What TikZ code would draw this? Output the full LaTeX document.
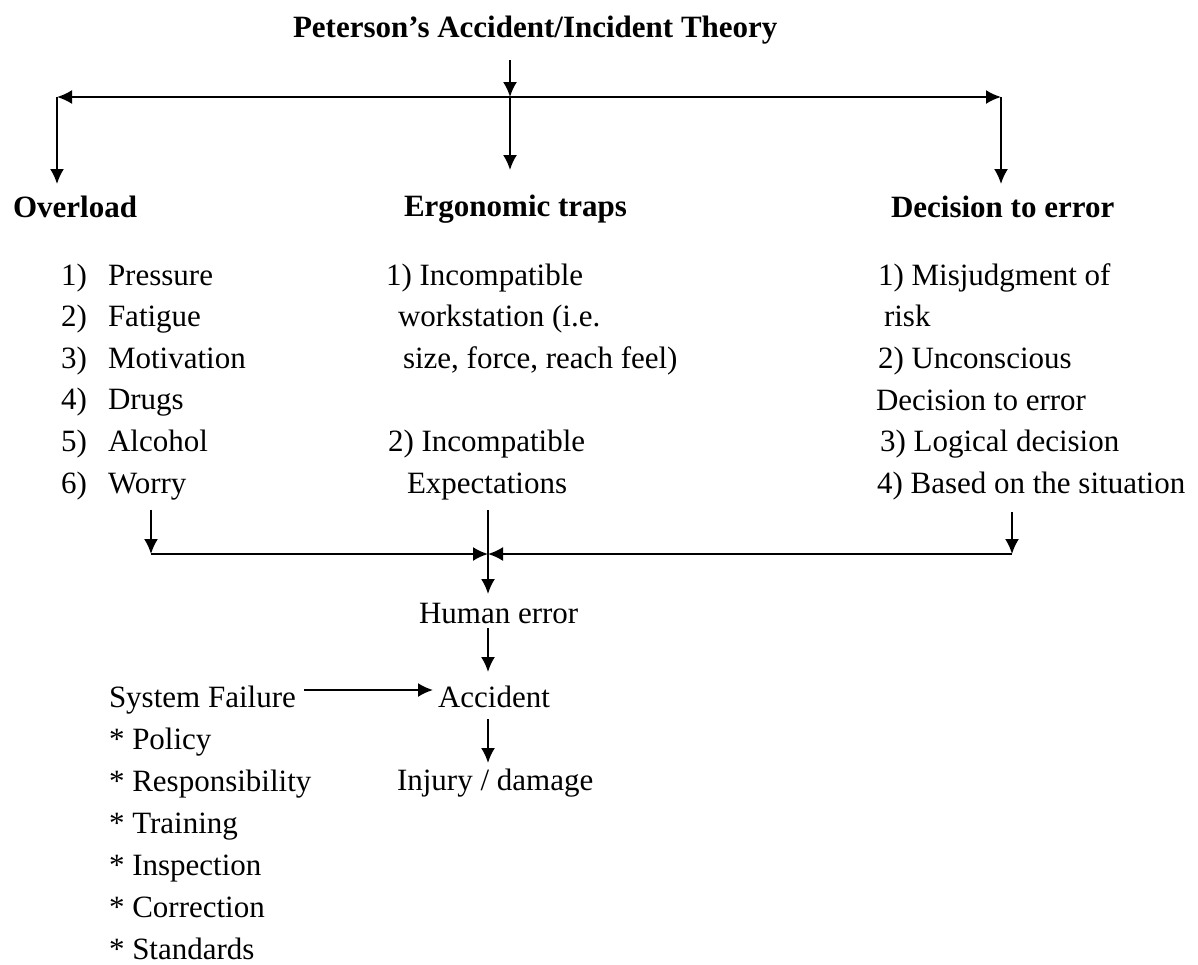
\documentclass[tikz,border=0pt]{standalone}
\usepackage{fontspec}
\setmainfont{Liberation Serif}
\usetikzlibrary{arrows.meta,positioning}
\tikzset{>={Latex[length=7.5pt,width=7pt]}}
\tikzset{txt/.style={inner sep=0pt, anchor=base west, font=\fontsize{15.5}{18}\selectfont},
  head/.style={txt, font=\fontsize{15.5}{18}\selectfont\bfseries}}

\begin{document}
\begin{tikzpicture}[x=0.5pt, y=-0.5pt, line width=1pt]
  \useasboundingbox (0,0) rectangle (1198,964);
  % title and the three branches
  \node[head] (title) at (292,37) {Peterson's Accident/Incident Theory};
  \node[head] (over) at (12,217) {Overload};
  \node[head] (ergo) at (403,216) {Ergonomic traps};
  \node[head] (deci) at (890,217) {Decision to error};
  \coordinate (titleout) at (510,60);
  \coordinate (split) at (510,97);
  \coordinate (splitL) at (57,97);
  \coordinate (splitR) at (1001,97);
  \coordinate (overin) at (57,184);
  \coordinate (ergoin) at (510,170);
  \coordinate (deciin) at (1001,184);
  \draw[->] (titleout) -- (split);
  \draw[<->] (splitL) -- (splitR);
  \draw[->] (splitL) -- (overin);
  \draw[->] (split) -- (ergoin);
  \draw[->] (splitR) -- (deciin);
  % overload list
  \foreach \n/\t [count=\i from 0] in {1/Pressure, 2/Fatigue, 3/Motivation, 4/Drugs, 5/Alcohol, 6/Worry}{
    \node[txt] (num\n) at (60,285+41.6*\i) {\n)};
    \node[txt] (ov\n) at (107,285+41.6*\i) {\t};
  }
  % ergonomic traps
  \node[txt] (e1) at (385,285) {1) Incompatible};
  \node[txt] (e1b) at (397,326.6) {workstation (i.e.};
  \node[txt] (e1c) at (402,368) {size, force, reach feel)};
  \node[txt] (e2) at (387,451) {2) Incompatible};
  \node[txt] (e2b) at (406,493) {Expectations};
  % decision to error
  \node[txt] (d1) at (877,285) {1) Misjudgment of};
  \node[txt] (d1b) at (883,326.6) {risk};
  \node[txt] (d2) at (877,368) {2) Unconscious};
  \node[txt] (d2b) at (875,410) {Decision to error};
  \node[txt] (d3) at (879,451) {3) Logical decision};
  \node[txt] (d4) at (876,493) {4) Based on the situation};
  % merging into human error
  \coordinate (overout) at (151,510);
  \coordinate (ergoout) at (488,510);
  \coordinate (deciout) at (1012,512);
  \coordinate (mergeL) at (151,554);
  \coordinate (merge) at (488,554);
  \coordinate (mergeR) at (1012,554);
  \coordinate (humanin) at (488,594);
  \draw[->] (overout) -- (mergeL);
  \draw[->] (deciout) -- (mergeR);
  \draw[->] (mergeL) -- (merge);
  \draw[->] (mergeR) -- (merge);
  \draw[->] (ergoout) -- (humanin);
  \node[txt] (human) at (418,623) {Human error};
  \node[txt] (acc) at (437,707) {Accident};
  \node[txt] (injury) at (396,790) {Injury / damage};
  \coordinate (humanout) at (488,628);
  \coordinate (accin) at (488,672);
  \coordinate (accout) at (488,719);
  \coordinate (injuryin) at (488,763);
  \draw[->] (humanout) -- (accin);
  \draw[->] (accout) -- (injuryin);
  % system failure
  \node[txt] (sys) at (108,707) {System Failure};
  \foreach \t [count=\i] in {Policy, Responsibility, Training, Inspection, Correction, Standards}
    \node[txt] (sf\i) at (108,707+42*\i) {* \t};
  \coordinate (sysout) at (304,690);
  \coordinate (accleft) at (433,690);
  \draw[->] (sysout) -- (accleft);
\end{tikzpicture}
\end{document}
